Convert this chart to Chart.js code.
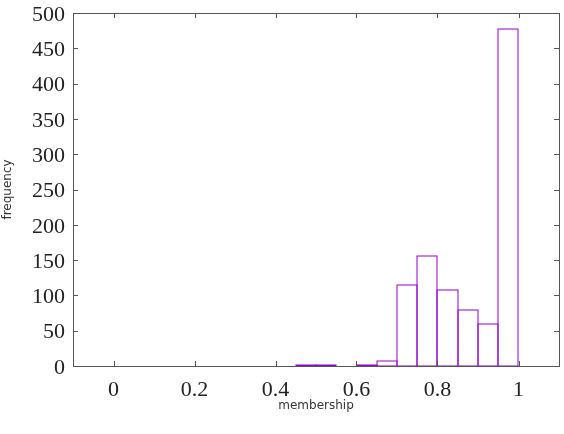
<!DOCTYPE html>
<html>
<head>
<meta charset="utf-8">
<script src="https://cdn.jsdelivr.net/npm/chart.js@4/dist/chart.umd.min.js"></script>
<style>
  html, body { margin: 0; padding: 0; background: #fff; }
  #wrap { width: 564px; height: 434px; }
</style>
</head>
<body>
<div id="wrap"><canvas id="hist" width="564" height="434"></canvas></div>
<script>
// membership histogram, bin width 0.05
const binCenters = [0.475, 0.525, 0.575, 0.625, 0.675, 0.725, 0.775, 0.825, 0.875, 0.925, 0.975]
const counts = [1, 1, 0, 2, 7, 115, 156, 107, 80, 59, 478]
const xTicks = [0, 0.2, 0.4, 0.6, 0.8, 1]
const yTicks = [0, 50, 100, 150, 200, 250, 300, 350, 400, 450, 500]

const points = binCenters.map((c, i) => ({x: c, y: counts[i]}))

// outline each box the way gnuplot does, neighbours share an edge
const boxOutline = {
    id: 'boxOutline',
    afterDatasetsDraw(chart) {
        const ctx = chart.ctx
        const meta = chart.getDatasetMeta(0)
        ctx.save()
        ctx.strokeStyle = '#9400d3'
        ctx.lineWidth = 1
        for (const bar of meta.data) {
            if (bar.base - bar.y < 0.5) continue
            const l = Math.round(bar.x - bar.width / 2)
            const r = Math.round(bar.x + bar.width / 2)
            const t = Math.round(bar.y)
            const b = Math.round(bar.base)
            ctx.strokeRect(l, t, r - l, b - t)
        }
        ctx.restore()
    }
}

// frame with inward ticks on all four sides
const frameTicks = {
    id: 'frameTicks',
    afterDraw(chart) {
        const ctx = chart.ctx
        const a = chart.chartArea
        const xs = chart.scales.x
        const ys = chart.scales.y
        const len = 5
        ctx.save()
        ctx.strokeStyle = '#555'
        ctx.lineWidth = 1
        ctx.beginPath()
        for (const v of xTicks) {
            const px = Math.round(xs.getPixelForValue(v)) + 0.5
            ctx.moveTo(px, a.bottom); ctx.lineTo(px, a.bottom - len)
            ctx.moveTo(px, a.top); ctx.lineTo(px, a.top + len)
        }
        for (const v of yTicks) {
            const py = Math.round(ys.getPixelForValue(v)) + 0.5
            ctx.moveTo(a.left, py); ctx.lineTo(a.left + len, py)
            ctx.moveTo(a.right, py); ctx.lineTo(a.right - len, py)
        }
        ctx.stroke()
        ctx.strokeRect(Math.round(a.left) + 0.5, Math.round(a.top) + 0.5,
            Math.round(a.right - a.left), Math.round(a.bottom - a.top))
        ctx.restore()
    }
}

const tickFont = {family: '"Liberation Serif", serif', size: 22}
const titleFont = {family: '"DejaVu Sans", sans-serif', size: 12}

new Chart(document.getElementById('hist'), {
    type: 'bar',
    data: {
        datasets: [{
            data: points,
            backgroundColor: 'rgba(255,255,255,0)',
            borderWidth: 0,
            barPercentage: 1,
            categoryPercentage: 1
        }]
    },
    options: {
        responsive: false,
        animation: false,
        layout: {padding: {top: 13, right: 5, left: 0, bottom: 0}},
        plugins: {legend: {display: false}, tooltip: {enabled: false}},
        scales: {
            x: {
                type: 'linear',
                min: -0.1,
                max: 1.1,
                offset: false,
                grid: {display: false, drawTicks: false},
                border: {display: false},
                afterBuildTicks: s => { s.ticks = xTicks.map(v => ({value: v})) },
                afterFit: s => { s.height = 68; s.paddingLeft = 0; s.paddingRight = 0 },
                ticks: {
                    font: tickFont,
                    color: '#222',
                    padding: 11,
                    maxRotation: 0,
                    callback: v => String(v)
                },
                title: {
                    display: true,
                    text: 'membership',
                    font: titleFont,
                    color: '#333',
                    padding: {top: 0, bottom: 21}
                }
            },
            y: {
                min: 0,
                max: 500,
                grid: {display: false, drawTicks: false},
                border: {display: false},
                afterBuildTicks: s => { s.ticks = yTicks.map(v => ({value: v})) },
                afterFit: s => { s.width = 73; s.paddingTop = 0; s.paddingBottom = 0 },
                ticks: {
                    font: tickFont,
                    color: '#222',
                    padding: 8,
                    labelOffset: 2
                },
                title: {
                    display: true,
                    text: 'frequency',
                    font: titleFont,
                    color: '#333',
                    padding: {top: 1, bottom: 0}
                }
            }
        }
    },
    plugins: [boxOutline, frameTicks]
})
</script>
</body>
</html>
